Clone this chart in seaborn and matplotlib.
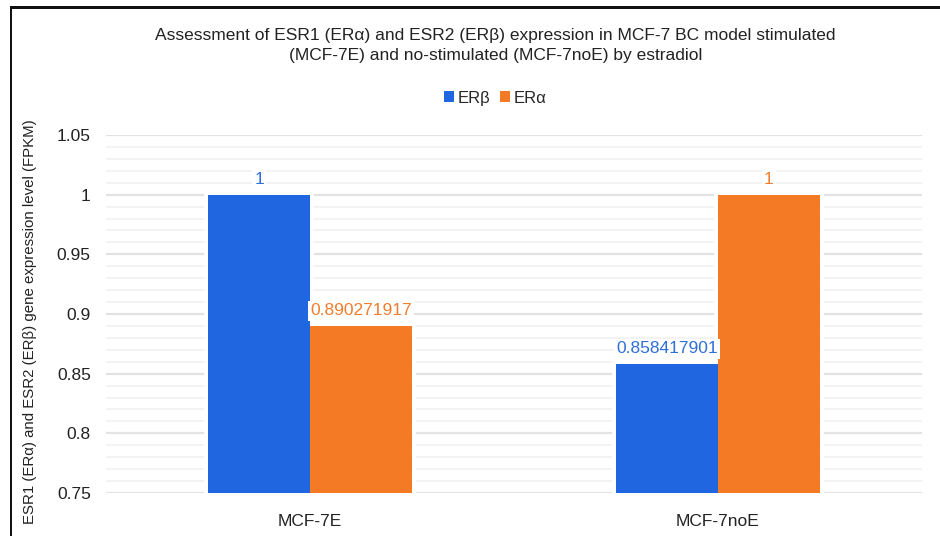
import matplotlib
matplotlib.use("Agg")
import matplotlib.pyplot as plt
import seaborn as sns
import pandas as pd
from matplotlib.patches import Patch, Rectangle

# Relative expression values per cell model
categories = ["MCF-7E", "MCF-7noE"]
er_beta = [1.0, 0.858417901]
er_alpha = [0.890271917, 1.0]
series = ["ERβ", "ERα"]
value_labels = {"ERβ": ["1", "0.858417901"], "ERα": ["0.890271917", "1"]}
yticks = [0.75, 0.8, 0.85, 0.9, 0.95, 1.0, 1.05]
ytick_labels = ["0.75", "0.8", "0.85", "0.9", "0.95", "1", "1.05"]

colors = {"ERβ": "#1F66E0", "ERα": "#F57A26"}
text_colors = {"ERβ": "#2F6FD8", "ERα": "#F07C2E"}

df = pd.DataFrame({
    "model": categories * 2,
    "receptor": ["ERβ"] * len(categories) + ["ERα"] * len(categories),
    "value": er_beta + er_alpha,
})

sns.set_theme(style="white")
plt.rcParams["font.family"] = ["Liberation Sans", "DejaVu Sans"]

fig = plt.figure(figsize=(9.4, 5.36), dpi=100)
ax = fig.add_axes([0.1128, 0.0802, 0.868, 0.668])

# light horizontal grid: fine every 0.01, stronger every 0.05
for i in range(31):
    v = 0.75 + 0.01 * i
    major = i % 5 == 0
    ax.axhline(v, color="#E3E3E3" if major else "#F1F1F1",
               lw=1.6 if major else 1.2, zorder=0)

common = dict(data=df, x="model", y="value", hue="receptor", hue_order=series,
              order=categories, palette=colors, width=0.5, ax=ax,
              saturation=1, legend=False)
# white halo that keeps the grid a few pixels away from the bars
sns.barplot(**common, zorder=1, edgecolor="white", linewidth=5.5)
# the bars themselves
sns.barplot(**common, zorder=2, linewidth=0)

ax.set_ylim(0.75, 1.05)
ax.set_xlim(-0.5, 1.5)
ax.set_yticks(yticks)
ax.set_yticklabels(ytick_labels, fontsize=12.5, color="#222222")
ax.tick_params(axis="x", labelsize=12.5, colors="#222222", length=0, pad=15)
ax.tick_params(axis="y", length=0, pad=11)
for s in ax.spines.values():
    s.set_visible(False)
ax.set_xlabel("")
ax.set_ylabel("ESR1 (ERα) and ESR2 (ERβ) gene expression level (FPKM)",
              fontsize=10.8, color="#222222")
ax.yaxis.set_label_coords(-0.0846, 0.478)

# value labels above each bar
for container, name in zip(ax.containers[-2:], series):
    for bar, lab in zip(container, value_labels[name]):
        x = bar.get_x() + bar.get_width() / 2
        y = bar.get_height()
        ax.text(x, y + 0.006, lab, ha="center", va="bottom", fontsize=12.5,
                color=text_colors[name], zorder=3,
                bbox=dict(facecolor="white", edgecolor="none", pad=1.5))

fig.text(0.527, 0.915,
         "Assessment of ESR1 (ERα) and ESR2 (ERβ) expression in MCF-7 BC model stimulated\n"
         "(MCF-7E) and no-stimulated (MCF-7noE) by estradiol",
         ha="center", va="center", fontsize=12.5, color="#222222", linespacing=1.45)

handles = [Patch(facecolor=colors[n], edgecolor="none") for n in series]
fig.legend(handles, series, loc="center", bbox_to_anchor=(0.527, 0.817), ncol=2,
           frameon=False, fontsize=12, handlelength=0.6, handleheight=0.6,
           handletextpad=0.2, columnspacing=0.6)

# frame along the left and top edges of the figure
fig.add_artist(Rectangle((0.0107, 0.0), 0.0022, 0.988, facecolor="#111111",
                         edgecolor="none", transform=fig.transFigure))
fig.add_artist(Rectangle((0.0107, 0.984), 0.9893, 0.004, facecolor="#111111",
                         edgecolor="none", transform=fig.transFigure))

fig.savefig("out.png", dpi=100, facecolor="white")
